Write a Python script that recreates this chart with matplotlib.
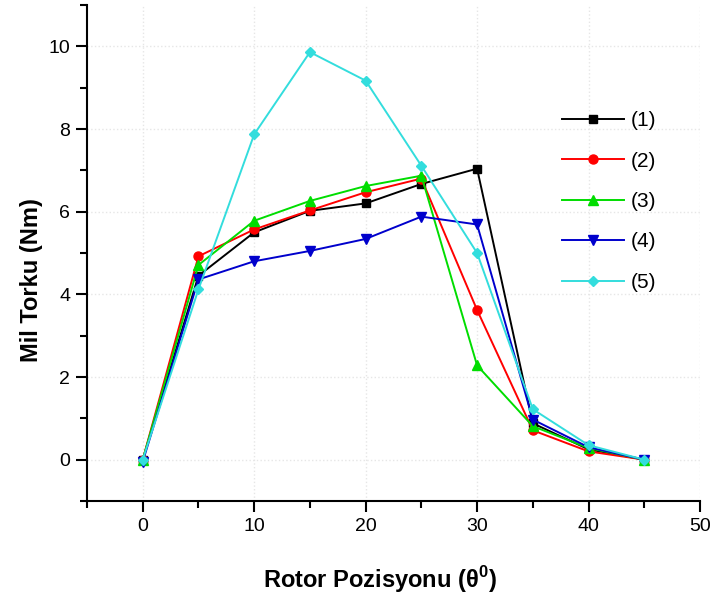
import matplotlib
matplotlib.use("Agg")
import matplotlib.pyplot as plt
from matplotlib.ticker import MultipleLocator

plt.rcParams['font.family'] = ['Liberation Sans', 'DejaVu Sans']

x = [0, 5, 10, 15, 20, 25, 30, 35, 40, 45]
s1 = [0.0, 4.45, 5.5, 6.02, 6.2, 6.67, 7.04, 0.88, 0.25, 0.0]
s2 = [0.0, 4.92, 5.57, 6.03, 6.47, 6.8, 3.62, 0.71, 0.2, 0.0]
s3 = [0.0, 4.71, 5.78, 6.26, 6.62, 6.87, 2.28, 0.81, 0.28, 0.0]
s4 = [-0.05, 4.36, 4.8, 5.05, 5.34, 5.88, 5.69, 0.97, 0.3, 0.0]
s5 = [0.0, 4.12, 7.87, 9.86, 9.17, 7.11, 5.0, 1.22, 0.35, 0.0]
labels = ['(1)', '(2)', '(3)', '(4)', '(5)']

series = [s1, s2, s3, s4, s5]
colors = ['black', '#ff0000', '#00dd00', '#0000cc', '#33dddd']
markers = ['s', 'o', '^', 'v', 'D']
msizes = [5.5, 6.5, 6.5, 6.5, 5.5]

fig = plt.figure(figsize=(7.12, 5.99), dpi=100)
ax = fig.add_axes([87/712, 98/599, 613/712, 496/599])

for s, c, m, ms, lab in zip(series, colors, markers, msizes, labels):
    ax.plot(x, s, color=c, marker=m, markersize=ms, linewidth=1.4, label=lab)

ax.set_xlim(-5, 50)
ax.set_ylim(-1, 11)
ax.xaxis.set_major_locator(MultipleLocator(10))
ax.xaxis.set_minor_locator(MultipleLocator(5))
ax.yaxis.set_major_locator(MultipleLocator(2))
ax.yaxis.set_minor_locator(MultipleLocator(1))
ax.spines['top'].set_visible(False)
ax.spines['right'].set_visible(False)
ax.spines['left'].set_linewidth(1.5)
ax.spines['bottom'].set_linewidth(1.5)
ax.tick_params(which='major', direction='out', length=8, width=1.5, labelsize=14, pad=4)
ax.tick_params(which='minor', direction='out', length=5, width=1.5)
ax.grid(True, which='major', color='#e6e6e6', linestyle=':', linewidth=1.0)
ax.set_axisbelow(True)

ax.set_xlabel('Rotor Pozisyonu (θ$^{\\mathregular{0}}$)', fontsize=17, fontweight='bold')
ax.set_ylabel('Mil Torku (Nm)', fontsize=17, fontweight='bold')
ax.xaxis.set_label_coords(0.478, -0.128)
ax.yaxis.set_label_coords(-0.072, 0.446)

leg = ax.legend(loc='upper left', bbox_to_anchor=(0.744, 0.824), frameon=False,
                fontsize=15, handlelength=3.0, labelspacing=1.03, handletextpad=0.3)

fig.savefig('out.png', dpi=100)
